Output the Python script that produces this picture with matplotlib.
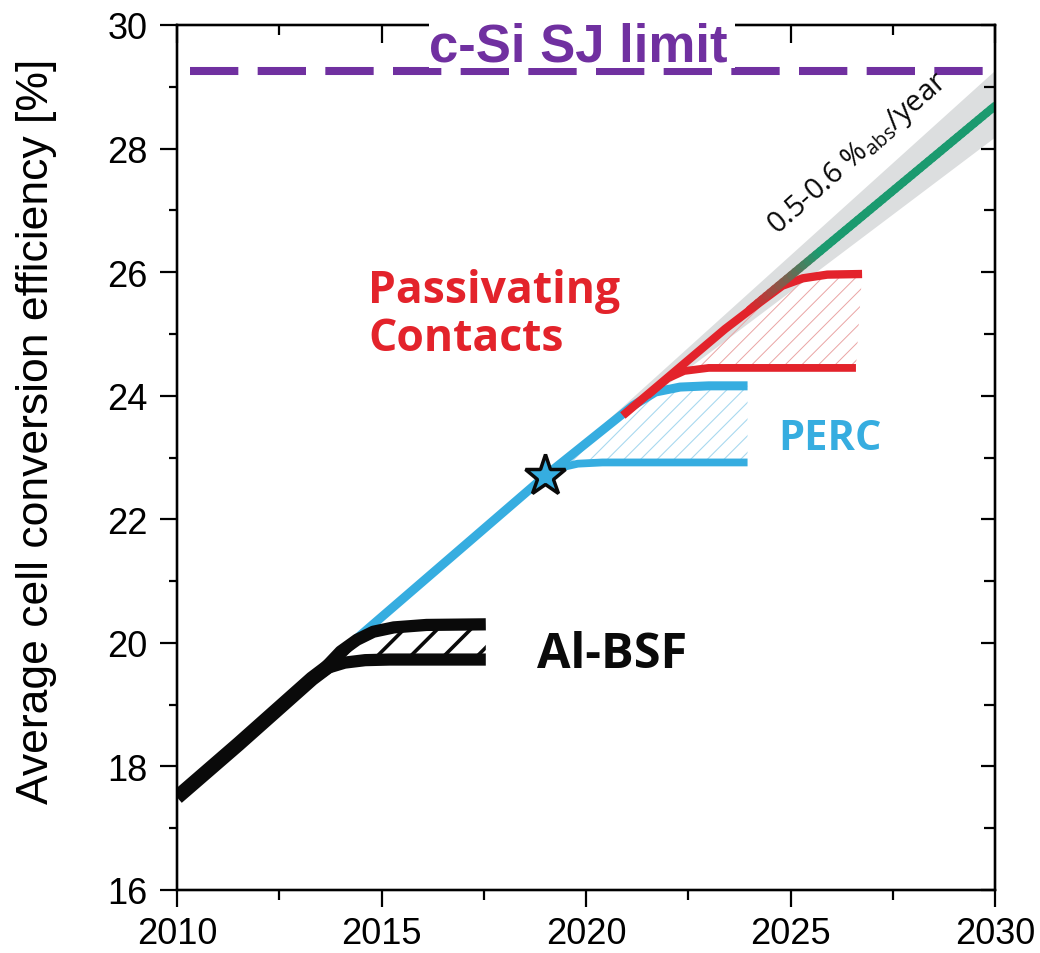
import numpy as np
import matplotlib
matplotlib.use("Agg")
import matplotlib.pyplot as plt
from matplotlib.collections import LineCollection
from matplotlib.colors import to_rgb
from matplotlib.patches import Rectangle

plt.rcParams["font.family"] = ["Liberation Sans", "DejaVu Sans"]
plt.rcParams["mathtext.fontset"] = "custom"
plt.rcParams["mathtext.rm"] = "Open Sans"

# axis ticks
x_major = [2010, 2015, 2020, 2025, 2030]
x_minor = [2012.5, 2017.5, 2022.5, 2027.5]
y_major = [16, 18, 20, 22, 24, 26, 28, 30]
y_minor = [17, 19, 21, 23, 25, 27, 29]

# Al-BSF
bsf_main_x = [2010.0, 2011.5, 2013.3, 2013.9]
bsf_main_y = [17.50, 18.36, 19.42, 19.72]
bsf_up_x = [2013.6, 2014.0, 2014.4, 2014.8, 2015.3, 2016.1, 2017.55]
bsf_up_y = [19.58, 19.86, 20.05, 20.18, 20.25, 20.29, 20.30]
bsf_lo_x = [2013.3, 2013.7, 2014.1, 2014.6, 2015.2, 2017.55]
bsf_lo_y = [19.42, 19.60, 19.68, 19.72, 19.73, 19.73]

# PERC
perc_up_x = [2014.2, 2019.0, 2021.15, 2021.7, 2022.3, 2023.0, 2023.95]
perc_up_y = [19.96, 22.70, 23.84, 24.06, 24.14, 24.16, 24.16]
perc_lo_x = [2019.0, 2019.4, 2019.8, 2020.4, 2023.95]
perc_lo_y = [22.70, 22.84, 22.90, 22.92, 22.92]
star_x, star_y = 2019.0, 22.7

# passivating contacts
pc_up_x = [2020.9, 2023.4, 2024.25, 2024.8, 2025.3, 2025.9, 2026.75]
pc_up_y = [23.68, 25.08, 25.51, 25.78, 25.90, 25.96, 25.97]
pc_lo_x = [2021.5, 2022.0, 2022.4, 2023.0, 2026.6]
pc_lo_y = [24.00, 24.28, 24.40, 24.45, 24.45]

# projected trend 0.5-0.6 %abs/year
trend_x = [2024.0, 2030.0]
trend_y = [25.39, 28.69]
band_x = [2019.0, 2030.0]
band_lo = [22.70, 28.19]
band_hi = [22.70, 29.27]

sj_limit = 29.25

BLACK = "#0a0a0a"
BLUE = "#36ade0"
RED = "#e3232b"
GREEN = "#1b9a6f"
PURPLE = "#7030a0"


def region(ax, ux, uy, lx, ly, color, hatch, hlw):
    patch = ax.fill(np.r_[ux, lx[::-1]], np.r_[uy, ly[::-1]], facecolor="none",
                    edgecolor=color, hatch=hatch, linewidth=0, zorder=1.5)[0]
    if hasattr(patch, "set_hatch_linewidth"):
        patch.set_hatch_linewidth(hlw)
    return patch


def gradient_line(ax, xs, ys, c0, c1, blend, lw):
    # straight segment coloured from c0 to c1 over the first `blend` years
    t = np.linspace(0, 1, 60)
    px = xs[0] + t * (xs[1] - xs[0])
    py = ys[0] + t * (ys[1] - ys[0])
    pts = np.column_stack([px, py]).reshape(-1, 1, 2)
    segs = np.concatenate([pts[:-1], pts[1:]], axis=1)
    f = np.clip((px[:-1] - xs[0]) / blend, 0, 1)[:, None]
    cols = (1 - f) * np.array(to_rgb(c0)) + f * np.array(to_rgb(c1))
    lc = LineCollection(segs, colors=cols, linewidths=lw, capstyle="round", zorder=3.2)
    ax.add_collection(lc)


fig = plt.figure(figsize=(10.4, 9.54), dpi=100)
ax = fig.add_axes([177 / 1040, 63 / 954, 818 / 1040, 865 / 954])
ax.set_xlim(2010, 2030)
ax.set_ylim(16, 30)

# grey uncertainty band
ax.fill_between(band_x, band_lo, band_hi, color="#dcdedf", linewidth=0, zorder=1)

# hatched regions
region(ax, bsf_up_x, bsf_up_y, bsf_lo_x, bsf_lo_y, BLACK, "/", 2.6)
region(ax, perc_up_x, perc_up_y, perc_lo_x, perc_lo_y, "#a9d9ef", "//", 0.8)
region(ax, pc_up_x, pc_up_y, pc_lo_x, pc_lo_y, "#eaa4a4", "//", 0.7)

# curves
kw = dict(solid_capstyle="butt", solid_joinstyle="round")
ax.plot(perc_up_x, perc_up_y, color=BLUE, lw=6.5, zorder=2.5, **kw)
ax.plot(perc_lo_x, perc_lo_y, color=BLUE, lw=5.6, zorder=2.5, **kw)
ax.plot(pc_up_x, pc_up_y, color=RED, lw=6.0, zorder=3, **kw)
ax.plot(pc_lo_x, pc_lo_y, color=RED, lw=5.6, zorder=3, **kw)
gradient_line(ax, trend_x, trend_y, RED, GREEN, 1.7, 6.0)
ax.plot(bsf_main_x, bsf_main_y, color=BLACK, lw=10.5, zorder=3.5, **kw)
ax.plot(bsf_up_x, bsf_up_y, color=BLACK, lw=8.8, zorder=3.5, **kw)
ax.plot(bsf_lo_x, bsf_lo_y, color=BLACK, lw=8.8, zorder=3.5, **kw)
ax.plot([star_x], [star_y], marker="*", ms=31, mfc=BLUE, mec=BLACK, mew=2.5, zorder=5)

# single-junction limit
ax.axhline(sj_limit, xmin=0.016, xmax=0.988, color=PURPLE, lw=5.8,
           linestyle=(0, (6, 2.4)), dash_capstyle="butt", zorder=2)

# labels
bold = dict(family=["Open Sans", "DejaVu Sans"], fontweight="bold", ha="left", va="baseline")
ax.text(2014.67, 25.52, "Passivating", color=RED, fontsize=32, **bold)
ax.text(2014.67, 24.74, "Contacts", color=RED, fontsize=32, **bold)
ax.text(2024.69, 23.14, "PERC", color=BLUE, fontsize=30, **bold)
ax.text(2018.8, 19.61, "Al-BSF", color=BLACK, fontsize=35, **bold)
ax.text(2024.66, 26.62, r"0.5-0.6 %$_{\rm abs}$/year", rotation=41.5, rotation_mode="anchor",
        ha="left", va="baseline", fontsize=21, family=["Open Sans", "DejaVu Sans"], color=BLACK)

# axes styling: bottom/left ticks outward, top/right inward
top = ax.twiny()
right = ax.twinx()
for a in (ax, top, right):
    for s in a.spines.values():
        s.set_linewidth(1.6)

ax.set_xticks(x_major)
ax.set_xticks(x_minor, minor=True)
ax.set_yticks(y_major)
ax.set_yticks(y_minor, minor=True)
ax.tick_params(which="both", direction="out", width=1.6, labelsize=26)
ax.tick_params(axis="x", which="major", length=12, pad=7)
ax.tick_params(axis="x", which="minor", length=7)
ax.tick_params(axis="y", which="major", length=12, pad=9)
ax.tick_params(axis="y", which="minor", length=6)

top.set_xlim(ax.get_xlim())
top.set_xticks(x_major)
top.set_xticks(x_minor, minor=True)
top.tick_params(which="both", direction="in", width=1.6, labeltop=False)
top.tick_params(which="major", length=13)
top.tick_params(which="minor", length=7)

right.set_ylim(ax.get_ylim())
right.set_yticks(y_major)
right.set_yticks(y_minor, minor=True)
right.tick_params(which="both", direction="in", width=1.6, labelright=False)
right.tick_params(which="major", length=10)
right.tick_params(which="minor", length=8)

ax.set_ylabel("Average cell conversion efficiency [%]", fontsize=32)
ax.yaxis.set_label_coords(-0.147, 0.531)

# title box over the limit line
fig.add_artist(Rectangle((2016.15, 29.31), 7.5, 1.4, transform=ax.transData,
                         facecolor="white", edgecolor="none", zorder=5))
fig.text(2019.8, 29.42, "c-Si SJ limit", transform=ax.transData, ha="center", va="baseline",
         color=PURPLE, fontsize=38, fontweight="bold", zorder=6)

fig.savefig("out.png", dpi=100)
